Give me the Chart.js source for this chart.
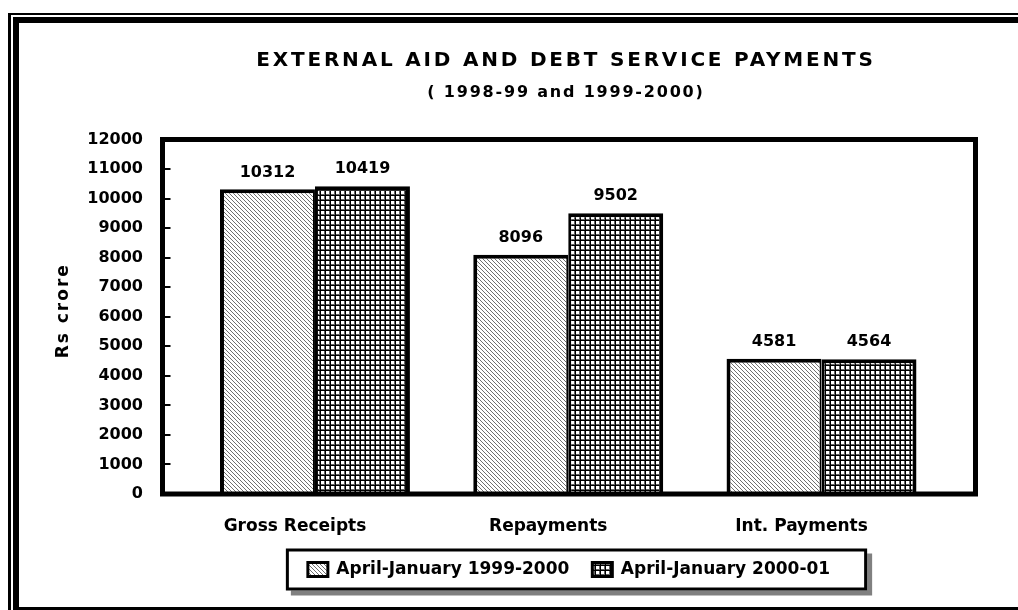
<!DOCTYPE html>
<html>
<head>
<meta charset="utf-8">
<script src="https://cdn.jsdelivr.net/npm/chart.js@4/dist/chart.umd.min.js"></script>
<style>
  html, body { margin: 0; padding: 0; background: #fff; }
  canvas { display: block; }
</style>
</head>
<body>
<canvas id="aidChart" width="1018" height="610"></canvas>
<script>
// data
const categories = ['Gross Receipts', 'Repayments', 'Int. Payments'];
const seriesNames = ['April-January 1999-2000', 'April-January 2000-01'];
const values9900 = [10312, 8096, 4581];
const values0001 = [10419, 9502, 4564];
const yMax = 12000;
const yStep = 1000;

const titleText = 'EXTERNAL AID AND DEBT SERVICE PAYMENTS';
const subtitleText = '( 1998-99 and 1999-2000)';
const yTitleText = 'Rs crore';

const FONT = "'DejaVu Sans', sans-serif";

// hatch fills, like the old excel patterns
function diagPattern(ctx) {
  const t = document.createElement('canvas');
  t.width = 4; t.height = 4;
  const c = t.getContext('2d');
  c.fillStyle = '#fff';
  c.fillRect(0, 0, 4, 4);
  c.fillStyle = '#707070';
  for (let i = 0; i < 4; i++) c.fillRect(i, i, 1, 1);
  return ctx.createPattern(t, 'repeat');
}

function gridPattern(ctx) {
  const t = document.createElement('canvas');
  t.width = 5; t.height = 5;
  const c = t.getContext('2d');
  c.fillStyle = '#fff';
  c.fillRect(0, 0, 5, 5);
  c.fillStyle = '#000';
  c.fillRect(0, 0, 5, 1);
  c.fillRect(0, 0, 1, 5);
  c.fillStyle = '#666';
  c.fillRect(1, 4, 4, 1);
  c.fillRect(4, 1, 1, 4);
  return ctx.createPattern(t, 'repeat');
}

const canvas = document.getElementById('aidChart');
const ctx = canvas.getContext('2d');

// page frame, titles and legend box (all before the legend draws)
const framePlugin = {
  id: 'framePlugin',
  beforeDraw(chart) {
    const c = chart.ctx;
    const a = chart.chartArea;
    c.save();
    c.fillStyle = '#fff';
    c.fillRect(0, 0, chart.width, chart.height);
    c.fillStyle = '#000';
    c.fillRect(8, 13, 1018, 2);
    c.fillRect(8, 13, 3, 600);
    c.fillRect(13, 17, 1018, 6);
    c.fillRect(13, 17, 6, 600);
    c.fillRect(13, 607, 1018, 6);

    // titles, spaced out like the original
    const cx = (a.left + a.right) / 2 - 3;
    c.textAlign = 'center';
    c.textBaseline = 'middle';
    c.letterSpacing = '2.8px';
    c.font = 'bold 20px ' + FONT;
    c.fillText(titleText, cx, 61);
    c.letterSpacing = '1.8px';
    c.font = 'bold 16px ' + FONT;
    c.fillText(subtitleText, cx, 93);

    // y axis title
    c.save();
    c.translate(64, (a.top + a.bottom) / 2 - 6);
    c.rotate(-Math.PI / 2);
    c.letterSpacing = '2px';
    c.font = 'bold 17px ' + FONT;
    c.fillText(yTitleText, 0, 0);
    c.restore();
    c.letterSpacing = '0px';

    const hits = chart.legend.legendHitBoxes;
    if (hits && hits.length) {
      const first = hits[0], last = hits[hits.length - 1];
      const cy = first.top + first.height / 2;
      const x0 = first.left - 22;
      const x1 = last.left + last.width + 37;
      const y0 = cy - 21, y1 = cy + 21;
      c.fillStyle = '#808080';
      c.fillRect(x0 + 5, y0 + 5, x1 - x0, y1 - y0);
      c.fillStyle = '#fff';
      c.fillRect(x0, y0, x1 - x0, y1 - y0);
      c.strokeStyle = '#000';
      c.lineWidth = 3;
      c.strokeRect(x0 + 1.5, y0 + 1.5, x1 - x0 - 3, y1 - y0 - 3);
    }
    c.restore();
  },
  afterDatasetsDraw(chart) {
    const c = chart.ctx;
    const a = chart.chartArea;
    c.save();
    c.strokeStyle = '#000';
    c.lineWidth = 5;
    c.strokeRect(a.left, a.top, a.right - a.left, a.bottom - a.top);

    // value labels over the bars
    c.fillStyle = '#000';
    c.font = 'bold 16px ' + FONT;
    c.textAlign = 'center';
    c.textBaseline = 'bottom';
    chart.data.datasets.forEach((ds, i) => {
      chart.getDatasetMeta(i).data.forEach((bar, j) => {
        c.fillText(String(ds.data[j].y), bar.x, bar.y - 9);
      });
    });
    c.restore();
  }
};

new Chart(ctx, {
  type: 'bar',
  data: {
    datasets: [
      {
        label: seriesNames[0],
        data: values9900.map((v, i) => ({ x: i, y: v })),
        backgroundColor: diagPattern(ctx),
        borderColor: '#000',
        borderWidth: { top: 4, left: 4, right: 2, bottom: 0 },
        borderSkipped: 'start'
      },
      {
        label: seriesNames[1],
        data: values0001.map((v, i) => ({ x: i, y: v })),
        backgroundColor: gridPattern(ctx),
        borderColor: '#000',
        borderWidth: { top: 4, left: 3, right: 4, bottom: 0 },
        borderSkipped: 'start'
      }
    ]
  },
  options: {
    responsive: false,
    animation: false,
    devicePixelRatio: 1,
    categoryPercentage: 0.75,
    barPercentage: 1.0,
    layout: { padding: { left: 20, right: 42.5, top: 139.5, bottom: 22 } },
    scales: {
      x: {
        type: 'linear',
        offset: false,
        min: -0.602,
        max: 2.608,
        afterBuildTicks(scale) {
          scale.ticks = categories.map((_, i) => ({ value: i }));
        },
        afterFit(scale) { scale.height = 44; },
        grid: { display: false },
        border: { display: false },
        ticks: {
          color: '#000',
          padding: 14,
          labelOffset: -20,
          maxRotation: 0,
          font: { family: FONT, size: 17, weight: 'bold' },
          callback: (v) => categories[v] ?? ''
        }
      },
      y: {
        min: 0,
        max: yMax,
        afterFit(scale) { scale.width = 142.5; },
        border: { display: false },
        grid: {
          drawOnChartArea: false,
          drawTicks: true,
          tickLength: -8,
          color: '#000',
          lineWidth: 2
        },
        ticks: {
          stepSize: yStep,
          color: '#000',
          padding: 27.5,
          font: { family: FONT, size: 16, weight: 'bold' },
          callback: (v) => String(v)
        }
      }
    },
    plugins: {
      title: { display: false },
      legend: {
        position: 'bottom',
        fullSize: false,
        labels: {
          color: '#000',
          boxWidth: 20,
          boxHeight: 14,
          padding: 23,
          font: { family: FONT, size: 17, weight: 'bold' },
          generateLabels(chart) {
            const items = Chart.defaults.plugins.legend.labels.generateLabels(chart);
            items.forEach((it) => { it.lineWidth = 3; it.strokeStyle = '#000'; });
            return items;
          }
        }
      },
      tooltip: { enabled: false }
    }
  },
  plugins: [framePlugin]
});
</script>
</body>
</html>
